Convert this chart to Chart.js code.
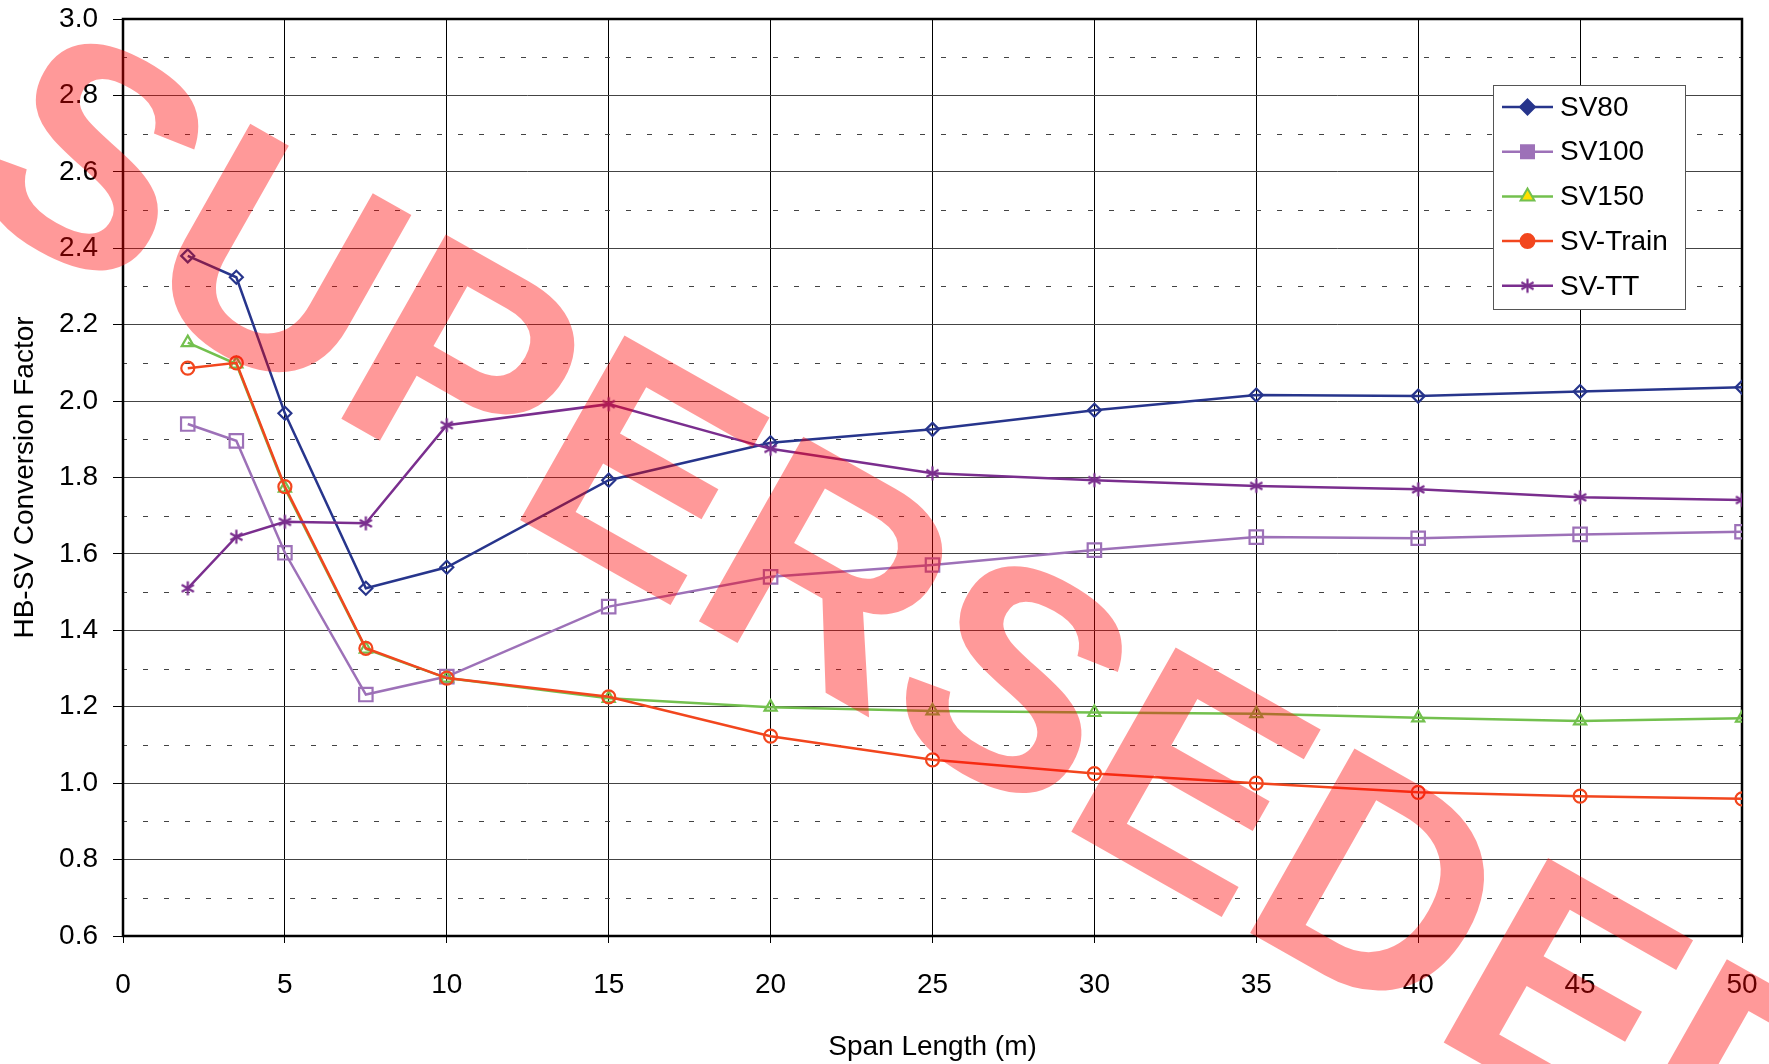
<!DOCTYPE html>
<html><head><meta charset="utf-8">
<script src="https://cdn.jsdelivr.net/npm/chart.js@4.4.1/dist/chart.umd.min.js"></script>
<style>html,body{margin:0;padding:0;background:#fff;overflow:hidden}#wrap{width:1769px;height:1064px;position:relative}</style>
</head><body><div id="wrap"><canvas id="c" width="1769" height="1064"></canvas></div>
<script>
// ---- data ----
const spans   = [2, 3.5, 5, 7.5, 10, 15, 20, 25, 30, 35, 40, 45, 50];
const sv80    = [2.380, 2.324, 1.968, 1.510, 1.565, 1.793, 1.891, 1.926, 1.976, 2.016, 2.013, 2.025, 2.036];
const sv100   = [1.940, 1.896, 1.603, 1.232, 1.279, 1.462, 1.540, 1.571, 1.610, 1.644, 1.641, 1.651, 1.658];
const sv150   = [2.153, 2.097, 1.772, 1.351, 1.275, 1.222, 1.199, 1.189, 1.185, 1.182, 1.171, 1.163, 1.170];
const svTrain = [2.086, 2.100, 1.776, 1.353, 1.275, 1.226, 1.123, 1.061, 1.025, 1.000, 0.976, 0.966, 0.959];
const svTT    = [1.510, 1.645, 1.684, 1.680, 1.937, 1.992, 1.875, 1.811, 1.793, 1.778, 1.769, 1.748, 1.741];
const seriesNames = ['SV80', 'SV100', 'SV150', 'SV-Train', 'SV-TT'];
const xTickValues = [0, 5, 10, 15, 20, 25, 30, 35, 40, 45, 50];
const yTickValues = [0.6, 0.8, 1.0, 1.2, 1.4, 1.6, 1.8, 2.0, 2.2, 2.4, 2.6, 2.8, 3.0];
const yMinorValues = [0.7, 0.9, 1.1, 1.3, 1.5, 1.7, 1.9, 2.1, 2.3, 2.5, 2.7, 2.9];
const xTitle = 'Span Length (m)';
const yTitle = 'HB-SV Conversion Factor';
const watermarkText = 'SUPERSEDED';

// ---- styles ----
const FONT = '"Liberation Sans", Arial, sans-serif';
const colors = ['#27358C', '#9D71B8', '#73C04E', '#F2461E', '#7A2E8E'];
const legendFills = ['#27358C', '#9D71B8', '#FFE000', '#F2461E', '#7A2E8E'];
const radii = [6.5, 9.5, 7, 6.5, 8];

function makeStar(color, size) {
  const c = document.createElement('canvas');
  c.width = size; c.height = size;
  const g = c.getContext('2d');
  g.strokeStyle = color; g.lineWidth = 2.2;
  const m = size / 2, r = size / 2 - 1.5;
  g.beginPath();
  g.moveTo(m, m - r); g.lineTo(m, m + r);
  g.moveTo(m - r * 0.87, m - r * 0.5); g.lineTo(m + r * 0.87, m + r * 0.5);
  g.moveTo(m - r * 0.87, m + r * 0.5); g.lineTo(m + r * 0.87, m - r * 0.5);
  g.stroke();
  return c;
}
const starImg = makeStar(colors[4], 17);
const pointStyles = ['rectRot', 'rect', 'triangle', 'circle', starImg];
const allSeries = [sv80, sv100, sv150, svTrain, svTT];

const datasets = allSeries.map((vals, i) => ({
  label: seriesNames[i],
  data: spans.map((x, j) => ({ x: x, y: vals[j] })),
  order: allSeries.length - i,
  borderColor: colors[i],
  backgroundColor: 'rgba(0,0,0,0)',
  borderWidth: 2.5,
  pointStyle: pointStyles[i],
  pointRadius: radii[i],
  pointBorderWidth: 2.2,
  pointBorderColor: colors[i],
  pointBackgroundColor: 'rgba(0,0,0,0)',
  tension: 0,
  fill: false
}));

const minorPlugin = {
  id: 'minorGrid',
  beforeDatasetsDraw(chart) {
    const { ctx, chartArea: a, scales: { y } } = chart;
    ctx.save();
    ctx.strokeStyle = '#444';
    ctx.lineWidth = 1;
    ctx.setLineDash([5, 16]);
    ctx.lineDashOffset = -20;
    yMinorValues.forEach(v => {
      const py = Math.round(y.getPixelForValue(v)) + 0.5;
      ctx.beginPath(); ctx.moveTo(a.left, py); ctx.lineTo(a.right, py); ctx.stroke();
    });
    ctx.setLineDash([]);
    ctx.strokeStyle = '#000';
    ctx.lineWidth = 2.5;
    ctx.strokeRect(a.left, a.top, a.right - a.left, a.bottom - a.top);
    ctx.restore();
  }
};

const legendPlugin = {
  id: 'boxLegend',
  afterDatasetsDraw(chart) {
    const ctx = chart.ctx;
    const bx = 1493, by = 85, bw = 192, bh = 224;
    ctx.save();
    ctx.fillStyle = '#fff';
    ctx.fillRect(bx, by, bw, bh);
    ctx.strokeStyle = '#555'; ctx.lineWidth = 1;
    ctx.strokeRect(bx + 0.5, by + 0.5, bw, bh);
    ctx.font = '28px ' + FONT;
    ctx.textBaseline = 'middle';
    seriesNames.forEach((name, i) => {
      const cy = 107 + i * 44.7;
      const x0 = 1502, x1 = 1553, cx = (x0 + x1) / 2;
      ctx.strokeStyle = colors[i]; ctx.lineWidth = 2.5;
      ctx.beginPath(); ctx.moveTo(x0, cy); ctx.lineTo(x1, cy); ctx.stroke();
      ctx.fillStyle = legendFills[i];
      ctx.strokeStyle = colors[i]; ctx.lineWidth = 2;
      ctx.beginPath();
      if (i === 0) { const r = 7.5; ctx.moveTo(cx, cy - r); ctx.lineTo(cx + r, cy); ctx.lineTo(cx, cy + r); ctx.lineTo(cx - r, cy); ctx.closePath(); ctx.fill(); ctx.stroke(); }
      else if (i === 1) { ctx.rect(cx - 6.5, cy - 6.5, 13, 13); ctx.fill(); ctx.stroke(); }
      else if (i === 2) { const r = 8; ctx.moveTo(cx, cy - r); ctx.lineTo(cx + r * 0.866, cy + r / 2); ctx.lineTo(cx - r * 0.866, cy + r / 2); ctx.closePath(); ctx.fill(); ctx.stroke(); }
      else if (i === 3) { ctx.arc(cx, cy, 7, 0, Math.PI * 2); ctx.fill(); ctx.stroke(); }
      else { ctx.drawImage(starImg, cx - starImg.width / 2, cy - starImg.height / 2); }
      ctx.fillStyle = '#000';
      ctx.fillText(name, 1560, cy + 1);
    });
    ctx.restore();
  }
};

const watermarkPlugin = {
  id: 'watermark',
  afterDraw(chart) {
    const ctx = chart.ctx;
    ctx.save();
    ctx.translate(-49, 198);
    ctx.rotate(29.5 * Math.PI / 180);
    ctx.font = 'bold 308px ' + FONT;
    ctx.fillStyle = 'rgba(255,0,0,0.4)';
    ctx.textBaseline = 'alphabetic';
    ctx.fillText(watermarkText, 0, 0);
    ctx.restore();
  }
};

Chart.defaults.font.family = FONT;
Chart.defaults.color = '#000';

new Chart(document.getElementById('c'), {
  type: 'line',
  data: { datasets },
  options: {
    responsive: false,
    animation: false,
    layout: { padding: { left: 0, top: 19, right: 27, bottom: 0 } },
    plugins: { legend: { display: false }, tooltip: { enabled: false } },
    scales: {
      x: {
        type: 'linear', min: 0, max: 50,
        afterBuildTicks: s => { s.ticks = xTickValues.map(v => ({ value: v })); },
        afterFit: s => { s.height = 128; s.paddingLeft = 0; s.paddingRight = 0; s.paddingTop = 0; s.paddingBottom = 0; },
        grid: { color: '#000', lineWidth: 1, tickLength: 7, tickColor: '#000' },
        border: { display: false },
        ticks: { font: { size: 28 }, padding: 25, maxRotation: 0, callback: v => String(v) },
        title: { display: true, text: xTitle, font: { size: 28 }, padding: { top: 0, bottom: 0 } }
      },
      y: {
        type: 'linear', min: 0.6, max: 3.0,
        afterBuildTicks: s => { s.ticks = yTickValues.map(v => ({ value: v })); },
        afterFit: s => { s.width = 123; s.paddingLeft = 0; s.paddingRight = 0; s.paddingTop = 0; s.paddingBottom = 0; },
        grid: { color: '#444', lineWidth: 1, tickLength: 10, tickColor: '#000' },
        border: { display: false },
        ticks: { font: { size: 28 }, padding: 15, callback: v => Number(v).toFixed(1) },
        title: { display: true, text: yTitle, font: { size: 28 }, padding: { top: 8, bottom: 0 } }
      }
    }
  },
  plugins: [minorPlugin, legendPlugin, watermarkPlugin]
});
</script>
</body></html>
